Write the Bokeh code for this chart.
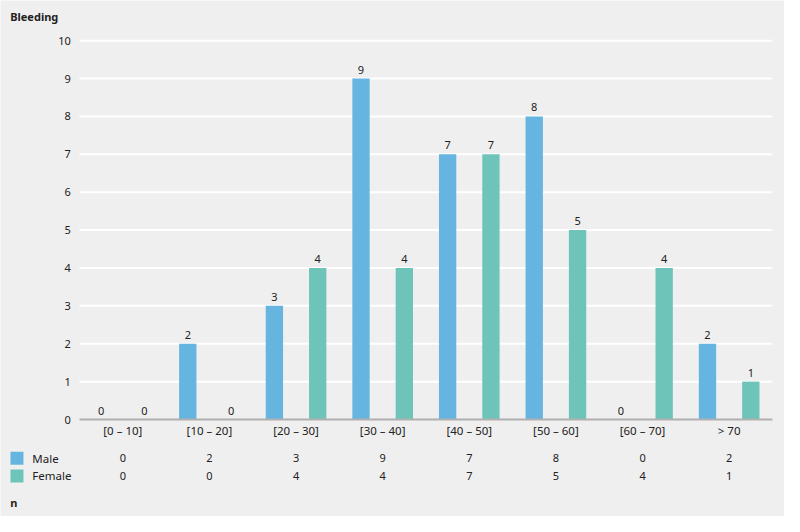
from bokeh.plotting import figure
from bokeh.models import ColumnDataSource, Range1d
from bokeh.core.properties import value
from bokeh.embed import file_html
from bokeh.resources import INLINE

# ---- data ----
categories = ["[0 – 10]", "[10 – 20]", "[20 – 30]", "[30 – 40]", "[40 – 50]", "[50 – 60]", "[60 – 70]", "> 70"]
male = [0, 2, 3, 9, 7, 8, 0, 2]
female = [0, 0, 4, 4, 7, 5, 4, 1]
series_names = ["Male", "Female"]
y_ticks = list(range(0, 11))
y_title = "Bleeding"
table_title = "n"

# ---- style ----
BG = "#efefef"
MALE_C = "#66b5e1"
FEMALE_C = "#6ec4b9"
TXT = "#222222"
FONT = value("Noto Sans")

W, H = 784, 516
p = figure(width=W, height=H, output_backend="svg", toolbar_location=None,
           x_range=Range1d(-0.912, 8.139), y_range=Range1d(-2.56, 11.06),
           min_border=0, min_border_left=0, min_border_right=0,
           min_border_top=0, min_border_bottom=0)
p.axis.visible = False
p.grid.visible = False
p.outline_line_color = None
p.background_fill_color = BG
p.border_fill_color = BG

n = len(categories)
centers = [i + 0.5 for i in range(n)]
off = 0.25
bw = 0.2

# gridlines (1..10) white
gy = [t for t in y_ticks if t > 0]
p.segment(x0=[0] * len(gy), x1=[n] * len(gy), y0=gy, y1=gy, line_color="white", line_width=2)

# bars
src = ColumnDataSource(dict(
    xm=[c - off for c in centers], xf=[c + off for c in centers],
    male=male, female=female,
    ml=[str(v) for v in male], fl=[str(v) for v in female],
    cx=centers, cat=categories,
))
p.vbar(x="xm", top="male", bottom=0, width=bw, source=src, fill_color=MALE_C, line_color=None)
p.vbar(x="xf", top="female", bottom=0, width=bw, source=src, fill_color=FEMALE_C, line_color=None)

# baseline
p.segment(x0=[0], x1=[n], y0=[0], y1=[0], line_color="#b0b0b0", line_width=2)

# value labels
p.text(x="xm", y="male", text="ml", source=src, text_align="center", text_baseline="bottom",
       y_offset=-5, text_font=FONT, text_font_size="11px", text_color=TXT)
p.text(x="xf", y="female", text="fl", source=src, text_align="center", text_baseline="bottom",
       y_offset=-5, text_font=FONT, text_font_size="11px", text_color=TXT)

# y tick labels
p.text(x=[-0.1] * len(y_ticks), y=y_ticks, text=[str(t) for t in y_ticks], text_align="right",
       text_baseline="middle", text_font=FONT, text_font_size="11px", text_color=TXT)

# category labels
p.text(x="cx", y=-0.29, text="cat", source=src, text_align="center", text_baseline="middle",
       text_font=FONT, text_font_size="11.5px", text_color=TXT)

# table rows
row_y = [-1.02, -1.49]
p.text(x="cx", y=row_y[0], text="ml", source=src, text_align="center", text_baseline="middle",
       text_font=FONT, text_font_size="11px", text_color=TXT)
p.text(x="cx", y=row_y[1], text="fl", source=src, text_align="center", text_baseline="middle",
       text_font=FONT, text_font_size="11px", text_color=TXT)

# legend squares + names
p.rect(x=[-0.722, -0.722], y=row_y, width=13, height=13, width_units="screen", height_units="screen",
       fill_color=[MALE_C, FEMALE_C], line_color=None)
p.text(x=[-0.545, -0.545], y=row_y, text=series_names, text_align="left", text_baseline="middle",
       text_font=FONT, text_font_size="11.5px", text_color=TXT)

# titles
p.text(x=[-0.8], y=[10.63], text=[y_title], text_align="left", text_baseline="middle",
       text_font=FONT, text_font_size="11px", text_font_style="bold", text_color=TXT)
p.text(x=[-0.8], y=[-2.19], text=[table_title], text_align="left", text_baseline="middle",
       text_font=FONT, text_font_size="11px", text_font_style="bold", text_color=TXT)

html = file_html(p, INLINE)
html = html.replace("<body>", '<body style="background:%s">' % BG, 1)
open("out.html", "w").write(html)
